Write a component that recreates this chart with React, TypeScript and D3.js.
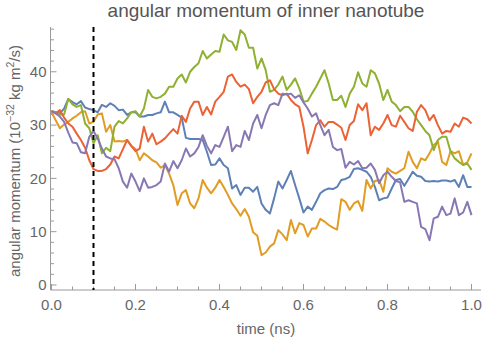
import React from 'react';
import * as d3 from 'd3';

// sampled every 0.01 ns
const times = d3.range(101).map((i) => i / 100);

const blue = [
  32.6, 32.4, 32.2, 33.1, 34.9, 34.3, 33.9, 34.5, 33.3, 33.0,
  32.8, 32.4, 33.8, 33.4, 34.1, 33.6, 32.8, 32.9, 31.9, 32.4,
  32.4, 31.6, 31.6, 31.9, 31.9, 32.2, 32.4, 34.4, 32.4, 32.4,
  31.9, 31.4, 27.6, 27.4, 27.4, 27.4, 27.2, 25.0, 22.5, 22.6,
  23.75, 22.5, 21.9, 18.1, 18.75, 16.9, 18.25, 18.25, 17.5, 18.4,
  15.3, 14.1, 13.4, 16.25, 19.4, 18.1, 19.7, 21.4, 18.75, 16.25,
  13.6, 14.7, 14.1, 15.6, 17.2, 17.8, 18.1, 18.0, 18.4, 19.7,
  19.9, 20.3, 21.75, 21.9, 21.6, 21.25, 20.3, 18.4, 15.9, 16.25,
  16.4, 18.1, 19.7, 19.9, 18.6, 19.9, 21.25, 20.5, 20.3, 19.5,
  19.4, 19.5, 19.4, 19.6, 19.6, 19.4, 19.7, 18.4, 20.6, 18.4,
  18.4,
];

const orange = [
  32.4, 30.9, 29.4, 30.1, 30.6, 31.25, 31.75, 32.4, 32.6, 30.3,
  30.6, 32.0, 32.2, 28.75, 30.0, 26.9, 27.0, 26.9, 27.2, 26.1,
  25.5, 23.4, 24.7, 24.1, 23.4, 23.0, 22.0, 22.5, 20.9, 18.75,
  15.0, 17.2, 17.8, 15.3, 14.4, 16.25, 19.7, 18.25, 17.2, 18.25,
  19.7, 18.4, 16.9, 15.3, 14.25, 13.0, 14.25, 12.8, 9.9, 9.25,
  5.6, 6.1, 7.2, 7.8, 10.3, 9.5, 8.4, 12.2, 9.7, 11.6,
  11.25, 9.1, 10.6, 10.6, 12.4, 11.9, 11.25, 10.75, 10.4, 16.1,
  15.6, 14.1, 15.3, 15.75, 13.9, 19.7, 18.1, 19.5, 19.7, 17.5,
  21.9, 21.25, 20.9, 21.4, 21.9, 25.0, 23.1, 21.9, 23.75, 23.4,
  24.7, 26.25, 26.9, 23.1, 22.5, 25.1, 24.7, 25.1, 22.6, 23.0,
  24.7,
];

const green = [
  32.6, 32.4, 32.0, 32.0, 34.9, 33.9, 33.4, 33.75, 30.3, 29.4,
  26.6, 28.1, 24.7, 25.75, 25.1, 29.7, 30.75, 30.3, 31.25, 32.4,
  32.6, 31.6, 33.1, 36.6, 35.3, 35.0, 35.3, 35.9, 37.2, 37.2,
  38.75, 39.5, 38.0, 40.0, 40.9, 41.6, 43.9, 42.5, 43.25, 43.9,
  43.75, 47.0, 45.9, 45.6, 44.1, 47.8, 47.0, 44.5, 44.5, 40.6,
  42.5, 40.3, 36.25, 36.6, 37.6, 39.1, 36.6, 37.6, 38.75, 36.9,
  34.4, 34.5, 35.9, 37.2, 38.75, 40.3, 37.8, 34.7, 34.7, 35.5,
  33.4, 35.9, 37.2, 39.9, 37.8, 37.2, 40.3, 39.7, 37.8, 34.7,
  36.6, 34.4, 33.75, 32.6, 33.4, 33.4, 32.5, 31.1, 30.0, 28.9,
  28.1, 25.3, 27.2, 27.8, 27.8, 25.1, 23.75, 23.1, 22.5, 22.8,
  21.6,
];

const red = [
  32.6, 32.2, 32.8, 31.4, 30.3, 29.7, 28.4, 27.2, 25.75, 23.4,
  21.75, 21.4, 21.4, 21.75, 22.6, 24.1, 23.75, 25.5, 27.2, 26.1,
  25.1, 25.6, 29.7, 26.9, 28.4, 26.4, 26.9, 27.5, 28.4, 29.25,
  28.4, 31.75, 30.6, 33.1, 34.4, 34.4, 31.9, 33.4, 32.0, 34.4,
  35.3, 36.25, 39.1, 39.5, 38.1, 37.2, 37.6, 36.75, 34.1, 35.3,
  36.25, 38.0, 38.4, 36.75, 35.9, 35.6, 35.9, 34.7, 33.9, 33.4,
  29.7, 24.7, 27.2, 30.0, 30.9, 29.7, 30.6, 30.6, 30.1, 29.5,
  27.2, 30.0, 30.75, 33.9, 32.8, 34.1, 28.1, 29.7, 29.1, 30.3,
  31.9, 30.0, 29.7, 31.75, 30.6, 29.4, 28.9, 32.5, 33.75, 32.8,
  30.9, 31.9, 30.0, 28.4, 28.9, 28.75, 30.3, 29.7, 31.4, 31.1,
  30.3,
];

const purple = [
  32.6, 32.2, 31.6, 30.6, 28.6, 26.75, 26.6, 24.9, 24.7, 27.8,
  28.9, 27.5, 25.6, 24.1, 23.75, 23.6, 21.9, 19.4, 18.25, 20.9,
  19.4, 17.6, 20.0, 18.25, 18.4, 18.75, 19.4, 22.8, 21.25, 23.25,
  21.9, 23.4, 25.6, 24.1, 24.7, 25.9, 28.1, 26.1, 24.7, 26.25,
  25.9, 27.8, 29.7, 25.1, 26.25, 25.9, 28.9, 27.2, 30.3, 31.9,
  29.4, 31.9, 33.75, 34.1, 33.75, 35.9, 35.75, 35.9, 35.1, 35.6,
  34.25, 33.1, 31.6, 32.2, 30.0, 28.1, 29.1, 25.9, 25.3, 25.5,
  22.0, 23.1, 22.6, 23.25, 21.9, 22.0, 22.8, 21.6, 19.1, 20.6,
  21.25, 20.3, 19.5, 19.25, 15.6, 15.9, 15.6, 15.3, 10.9, 10.5,
  8.4, 12.5, 12.8, 14.7, 13.1, 13.4, 16.25, 13.1, 13.6, 15.6,
  13.1,
];

const seriesList = [blue, orange, green, red, purple];
const colors = ['#5e81b5', '#e19c24', '#8fb032', '#eb6235', '#8778b3'];

const xMajor = [0, 0.2, 0.4, 0.6, 0.8, 1.0];
const xMinor = d3.range(0, 1.001, 0.05);
const yMajor = [0, 10, 20, 30, 40];
const yMinor = d3.range(0, 49, 2);
const markerTime = 0.1;

const W = 485;
const H = 342;
const font = '"Liberation Sans", Arial, sans-serif';
const axisColor = '#9a9a9a';
const textColor = '#666';

export default function App() {
  const x = d3.scaleLinear().domain([0, 1.0226]).range([51.5, 481]);
  const y = d3.scaleLinear().domain([-0.94, 48.4]).range([290, 27]);

  const line = d3
    .line<number>()
    .x((_, i) => x(times[i]))
    .y((d) => y(d));

  const x0 = x.range()[0] - 1;
  const yBottom = y.range()[0];

  return (
    <svg
      width={W}
      height={H}
      style={{ position: 'absolute', left: 0, top: 0, background: '#fff' }}
      fontFamily={font}
    >
      <text x={266} y={17} textAnchor="middle" fontSize={19} fill="#555">
        angular momentum of inner nanotube
      </text>

      {/* axes */}
      <line x1={x0} x2={x(1.0226)} y1={yBottom} y2={yBottom} stroke={axisColor} />
      <line x1={x0} x2={x0} y1={yBottom} y2={y(48.4)} stroke={axisColor} />

      {xMinor.map((t) => {
        const major = xMajor.some((m) => Math.abs(m - t) < 1e-6);
        return (
          <line
            key={'xt' + t}
            x1={x(t)}
            x2={x(t)}
            y1={yBottom}
            y2={yBottom - (major ? 6 : 3.5)}
            stroke={axisColor}
          />
        );
      })}
      {xMajor.map((t) => (
        <text key={'xl' + t} x={x(t)} y={309.5} textAnchor="middle" fontSize={15} fill={textColor}>
          {t.toFixed(1)}
        </text>
      ))}

      {yMinor.map((v) => {
        const major = yMajor.includes(v);
        return (
          <line
            key={'yt' + v}
            x1={x0}
            x2={x0 + (major ? 6 : 3.5)}
            y1={y(v)}
            y2={y(v)}
            stroke={axisColor}
          />
        );
      })}
      {yMajor.map((v) => (
        <text
          key={'yl' + v}
          x={46.5}
          y={y(v)}
          dy="0.36em"
          textAnchor="end"
          fontSize={15}
          fill={textColor}
        >
          {v}
        </text>
      ))}

      <text x={266} y={334} textAnchor="middle" fontSize={15} fill={textColor}>
        time (ns)
      </text>
      <text
        transform={`translate(20,161) rotate(-90)`}
        textAnchor="middle"
        fontSize={15}
        fill={textColor}
      >
        angular momentum (10
        <tspan dy={-6} fontSize={10.5}>−32</tspan>
        <tspan dy={6}> kg m</tspan>
        <tspan dy={-6} fontSize={10.5}>2</tspan>
        <tspan dy={6}>/s)</tspan>
      </text>

      {seriesList.map((s, i) => (
        <path
          key={i}
          d={line(s) || ''}
          fill="none"
          stroke={colors[i]}
          strokeWidth={2}
          strokeLinejoin="round"
        />
      ))}

      <line
        x1={x(markerTime)}
        x2={x(markerTime)}
        y1={y(48.4)}
        y2={yBottom}
        stroke="#000"
        strokeWidth={2}
        strokeDasharray="5,4"
      />
    </svg>
  );
}
